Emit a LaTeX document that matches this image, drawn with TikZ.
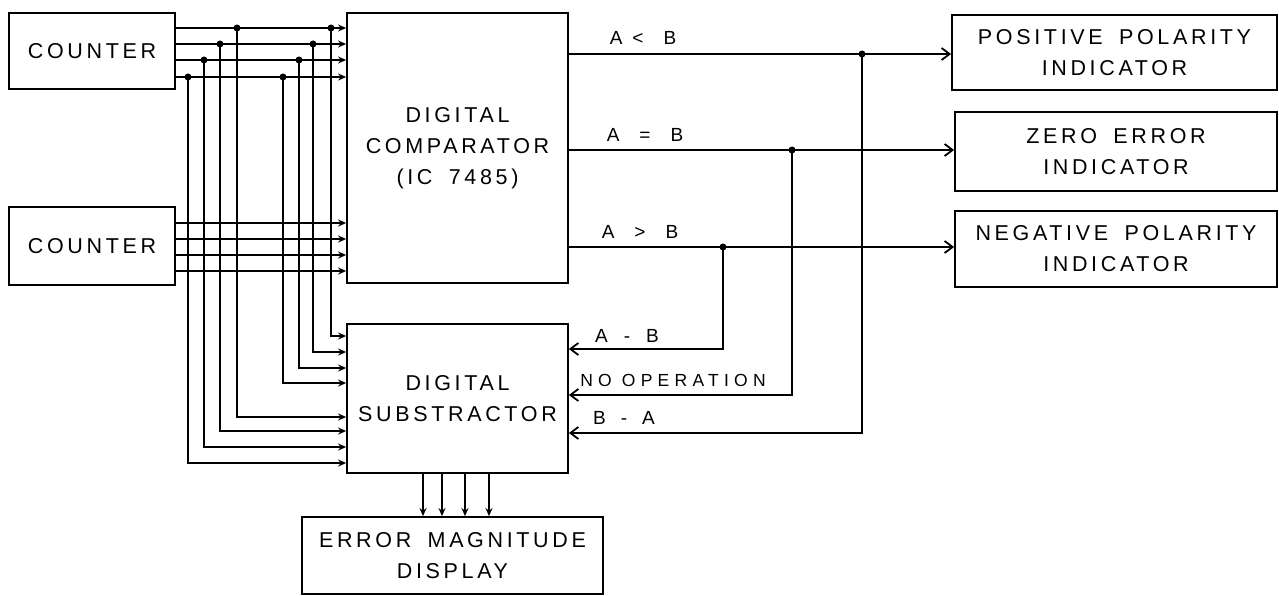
\documentclass[tikz,border=0pt]{standalone}
\usepackage{fontspec}
\setmainfont{Liberation Sans}[LetterSpace=17,WordSpace=1.7]
\newfontfamily\lblfont{Liberation Sans}[LetterSpace=30]
\usetikzlibrary{arrows.meta}

\begin{document}
\begin{tikzpicture}[x=1pt,y=-1pt,line width=1.8pt,
  blk/.style={draw,inner sep=0pt,align=center,font=\fontsize{21.5}{31}\selectfont},
  lbl/.style={font=\lblfont\fontsize{19}{21}\selectfont},
  inarr/.style={-{Stealth[length=8pt,width=7pt]}},
  outarr/.style={-{Straight Barb[length=8pt,width=12pt]}},
  dot/.style={circle,fill,inner sep=0pt,minimum size=7pt}]
  \useasboundingbox (0,0) rectangle (1279,596);
  % blocks
  \node[blk,minimum width=166,minimum height=76] (cntA) at (92,51) {COUNTER};
  \node[blk,minimum width=166,minimum height=78] (cntB) at (92,246) {COUNTER};
  \node[blk,minimum width=221,minimum height=270] (cmp) at (457.5,148) {DIGITAL\\COMPARATOR\\(IC 7485)};
  \node[blk,minimum width=221,minimum height=149] (sub) at (457.5,398.5) {DIGITAL\\SUBSTRACTOR};
  \node[blk,minimum width=301,minimum height=77] (disp) at (452.5,555.5) {ERROR MAGNITUDE\\DISPLAY};
  \node[blk,minimum width=325,minimum height=75] (pos) at (1114.5,52.5) {POSITIVE POLARITY\\INDICATOR};
  \node[blk,minimum width=322,minimum height=79] (zero) at (1116,151.5) {ZERO ERROR\\INDICATOR};
  \node[blk,minimum width=322,minimum height=76] (neg) at (1116,249) {NEGATIVE POLARITY\\INDICATOR};
  % counter buses, tapped to the substractor
  \foreach \ya/\xl/\yl/\xr/\yr in {28/237/417/331/336,44/220/431/313/352,60/204/447/299/368,77/188/463/283/383}{
    \draw[inarr] (cntA.east |- 0,\ya) -- (cmp.west |- 0,\ya);
    \node[dot] (l\ya) at (\xl,\ya) {};
    \node[dot] (r\ya) at (\xr,\ya) {};
    \draw[inarr] (l\ya.center) |- (sub.west |- 0,\yl);
    \draw[inarr] (r\ya.center) |- (sub.west |- 0,\yr);}
  \foreach \yb in {223,239,255,271}
    \draw[inarr] (cntB.east |- 0,\yb) -- (cmp.west |- 0,\yb);
  % comparator outputs
  \draw[outarr] (cmp.east |- 0,54) -- (pos.west |- 0,54);
  \draw[outarr] (cmp.east |- 0,150) -- (zero.west |- 0,150);
  \draw[outarr] (cmp.east |- 0,247) -- (neg.west |- 0,247);
  \node[dot] (dlt) at (862,54) {};
  \node[dot] (deq) at (792,150) {};
  \node[dot] (dgt) at (723,247) {};
  \draw[outarr] (dgt.center) |- (sub.east |- 0,349);
  \draw[outarr] (deq.center) |- (sub.east |- 0,395);
  \draw[outarr] (dlt.center) |- (sub.east |- 0,433);
  \node[lbl] (llt) at (643,38) {A\hspace{10pt}<\hspace{20pt}B};
  \node[lbl] (leq) at (645,135) {A\hspace{20pt}=\hspace{20pt}B};
  \node[lbl] (lgt) at (640,232) {A\hspace{20pt}>\hspace{20pt}B};
  \node[lbl] (lab) at (627,336) {A\hspace{16pt}-\hspace{16pt}B};
  \node[lbl,font=\lblfont\fontsize{17.5}{19}\selectfont] (lno) at (673,380) {NO OPERATION};
  \node[lbl] (lba) at (624,418) {B\hspace{15pt}-\hspace{15pt}A};
  % magnitude to display
  \foreach \x in {423,442,465,489}
    \draw[inarr] (sub.south -| \x,0) -- (disp.north -| \x,0);
\end{tikzpicture}
\end{document}
